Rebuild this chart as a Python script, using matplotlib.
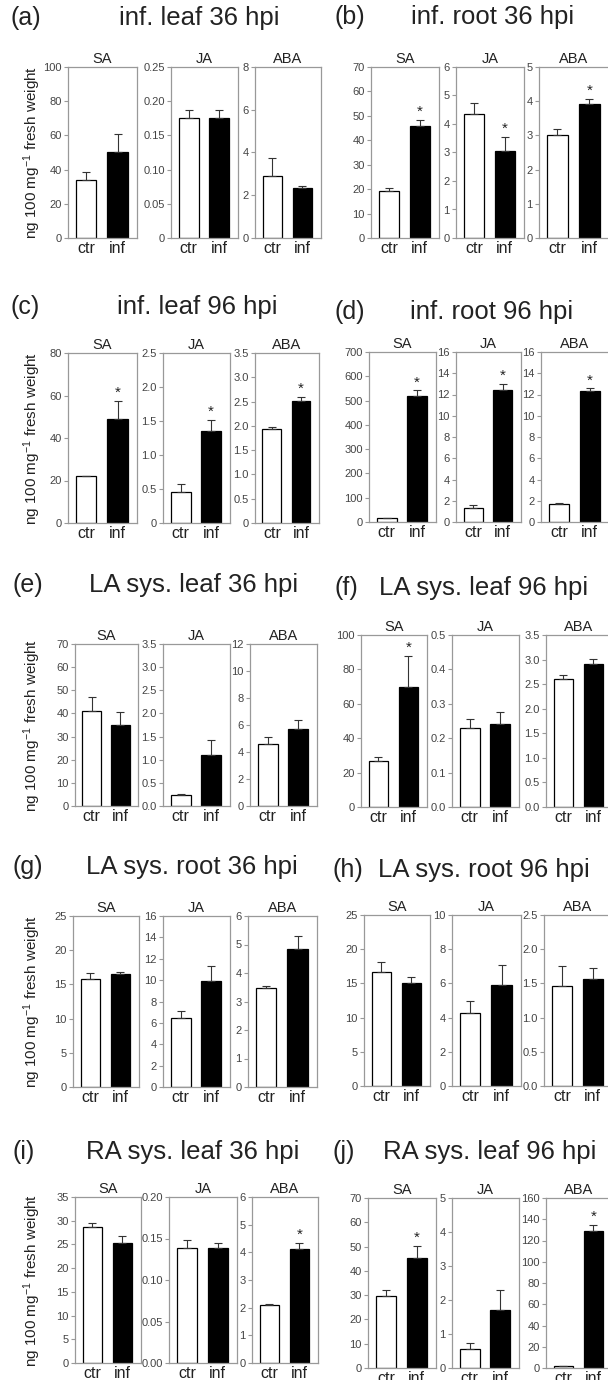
import matplotlib.pyplot as plt
import numpy as np

plt.rcParams['font.family'] = ['Liberation Sans', 'DejaVu Sans']
plt.rcParams['mathtext.fontset'] = 'custom'
plt.rcParams['mathtext.rm'] = 'Liberation Sans'
plt.rcParams['mathtext.it'] = 'Liberation Sans:italic'

# --- data ---
letters = ['a', 'b', 'c', 'd', 'e', 'f', 'g', 'h', 'i', 'j']
titles = ['inf. leaf 36 hpi', 'inf. root 36 hpi',
          'inf. leaf 96 hpi', 'inf. root 96 hpi',
          'LA sys. leaf 36 hpi', 'LA sys. leaf 96 hpi',
          'LA sys. root 36 hpi', 'LA sys. root 96 hpi',
          'RA sys. leaf 36 hpi', 'RA sys. leaf 96 hpi']
hormones = ['SA', 'JA', 'ABA']
groups = ['ctr', 'inf']

# per panel: [SA, JA, ABA]
ctr_mean = [[34, 0.176, 2.9], [19.2, 4.35, 3.02], [22, 0.46, 1.93], [15, 1.3, 1.7],
            [41, 0.23, 4.6], [27, 0.23, 2.6], [15.8, 6.5, 3.47], [16.7, 4.25, 1.46],
            [28.7, 0.138, 2.1], [29.5, 0.55, 1.5]]
ctr_err = [[4.5, 0.011, 0.85], [1.1, 0.4, 0.18], [0.3, 0.12, 0.04], [2, 0.3, 0.05],
           [6, 0.03, 0.5], [2, 0.025, 0.08], [0.9, 0.6, 0.08], [1.4, 0.7, 0.29],
           [0.8, 0.01, 0.03], [2.5, 0.2, 0.5]]
inf_mean = [[50, 0.176, 2.35], [46, 3.05, 3.93], [49, 1.36, 2.52], [517, 12.4, 12.3],
            [35, 1.1, 5.7], [70, 0.24, 2.92], [16.5, 9.9, 4.85], [15.0, 5.9, 1.57],
            [25.3, 0.139, 4.12], [45.3, 1.7, 129]]
inf_err = [[11, 0.011, 0.07], [2.5, 0.5, 0.14], [8.5, 0.16, 0.08], [25, 0.6, 0.3],
           [5.5, 0.33, 0.7], [18, 0.035, 0.1], [0.3, 1.4, 0.45], [1.0, 1.2, 0.16],
           [1.4, 0.006, 0.23], [5, 0.6, 6]]
signif = [[0, 0, 0], [1, 1, 1], [1, 1, 1], [1, 1, 1], [0, 0, 0],
          [1, 0, 0], [0, 0, 0], [0, 0, 0], [0, 0, 1], [1, 0, 1]]

y_max = [[100, 0.25, 8], [70, 6, 5], [80, 2.5, 3.5], [700, 16, 16], [70, 3.5, 12],
         [100, 0.5, 3.5], [25, 16, 6], [25, 10, 2.5], [35, 0.20, 6], [70, 5, 160]]
y_step = [[20, 0.05, 2], [10, 1, 1], [20, 0.5, 0.5], [100, 2, 2], [10, 0.5, 2],
          [20, 0.1, 0.5], [5, 2, 1], [5, 2, 0.5], [5, 0.05, 1], [10, 1, 20]]
zero_label = [['0', '0', '0'], ['0', '0', '0'], ['0', '0', '0'], ['0', '0', '0'],
              ['0', '0.0', '0'], ['0', '0.0', '0.0'], ['0', '0', '0'], ['0', '0', '0.0'],
              ['0', '0.00', '0'], ['0', '0', '0']]

# --- layout in pixels ---
W, H = 608, 1380
ax_tb = [(67, 238), (67, 238), (353, 523), (352, 522), (644, 806), (635, 807),
         (916, 1087), (915, 1086), (1197, 1363), (1198, 1368)]
ax_lr = [
    [(68, 137), (171, 238), (255, 321)],
    [(371, 439), (456, 524), (539, 609)],
    [(68, 137), (163, 230), (255, 319)],
    [(369, 436), (456, 521), (541, 609)],
    [(75, 138), (163, 230), (250, 317)],
    [(361, 427), (452, 519), (546, 612)],
    [(73, 139), (163, 230), (248, 317)],
    [(364, 430), (452, 521), (544, 612)],
    [(75, 141), (169, 237), (252, 318)],
    [(368, 436), (452, 519), (546, 612)],
]
label_xy = [(10, 18), (334, 17), (10, 307), (334, 312), (12, 585), (334, 588),
            (12, 867), (332, 870), (12, 1152), (332, 1152)]
title_cx = [199, 493, 197, 492, 194, 484, 192, 484, 193, 490]

spine_col = '#999999'
txt_col = '#222222'


def decimals(step):
    if step >= 1:
        return 0
    return len(repr(step).split('.')[1])


fig = plt.figure(figsize=(W / 100, H / 100), dpi=100)

for p in range(len(letters)):
    top, bot = ax_tb[p]
    lx, ly = label_xy[p]
    fig.text(lx / W, 1 - ly / H, f'({letters[p]})', fontsize=18, ha='left', va='center',
             color=txt_col)
    fig.text(title_cx[p] / W, 1 - ly / H, titles[p], fontsize=18.5, ha='center',
             va='center', color=txt_col)
    if p % 2 == 0:
        fig.text(32 / W, 1 - (top + bot) / 2 / H, 'ng 100 mg$^{-1}$ fresh weight',
                 rotation=90, fontsize=11, ha='center', va='center', color=txt_col)

    for k, hname in enumerate(hormones):
        l, r = ax_lr[p][k]
        ax = fig.add_axes([l / W, 1 - bot / H, (r - l) / W, (bot - top) / H])
        means = [ctr_mean[p][k], inf_mean[p][k]]
        errs = [ctr_err[p][k], inf_err[p][k]]
        ax.bar([0, 1], means, width=0.65, color=['white', 'black'],
               edgecolor='black', linewidth=0.9, zorder=2)
        for x, m, e in zip([0, 1], means, errs):
            ax.errorbar(x, m, yerr=[[0], [e]], color='#333333', capsize=3,
                        elinewidth=0.8, capthick=0.8, zorder=3)
        if signif[p][k]:
            ax.annotate('*', (1, means[1] + errs[1]), xytext=(0, 0.5),
                        textcoords='offset points', ha='center', va='bottom',
                        fontsize=11, color=txt_col)
        ax.set_xlim(-0.58, 1.62)
        ax.set_ylim(0, y_max[p][k])
        ticks = np.arange(0, y_max[p][k] + y_step[p][k] / 2, y_step[p][k])
        dec = decimals(y_step[p][k])
        labels = [zero_label[p][k]] + [f'{t:.{dec}f}' for t in ticks[1:]]
        ax.set_yticks(ticks)
        ax.set_yticklabels(labels)
        ax.set_xticks([0, 1])
        ax.set_xticklabels(groups)
        ax.tick_params(axis='y', length=3, width=0.8, color=spine_col, pad=1.5,
                       labelsize=8, labelcolor='#444444')
        ax.tick_params(axis='x', length=0, pad=2, labelsize=11.5, labelcolor=txt_col)
        for s in ax.spines.values():
            s.set_color(spine_col)
            s.set_linewidth(0.9)
        ax.set_title(hname, fontsize=10.5, pad=3, color=txt_col)

fig.savefig('out.png', dpi=100)
